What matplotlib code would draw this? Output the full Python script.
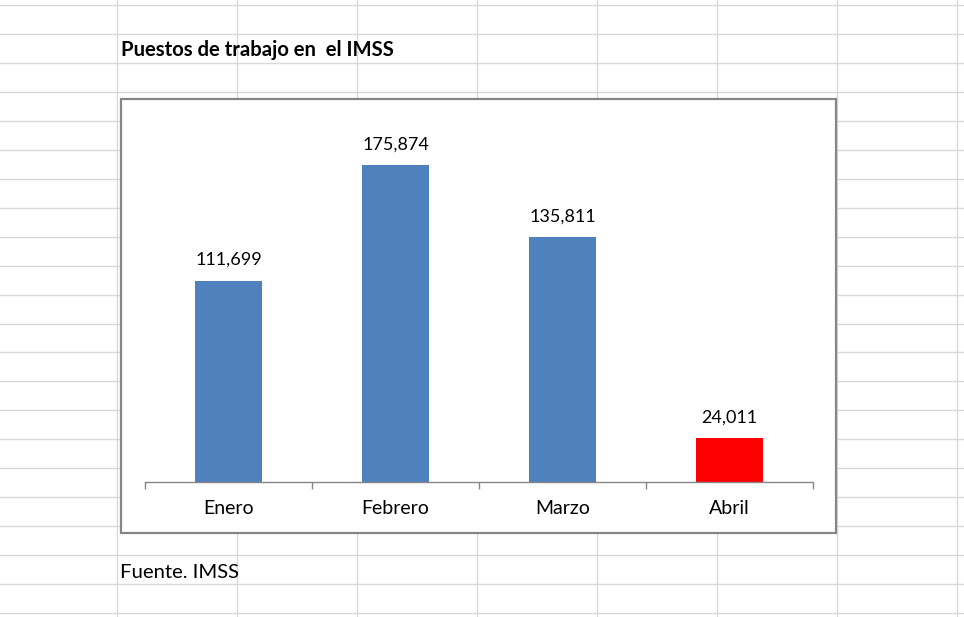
import matplotlib
matplotlib.use("Agg")
import matplotlib.pyplot as plt
from matplotlib.patches import Rectangle
from matplotlib.lines import Line2D

months = ["Enero", "Febrero", "Marzo", "Abril"]
jobs = [111699, 175874, 135811, 24011]
bar_colors = ["#4F81BD", "#4F81BD", "#4F81BD", "#FF0000"]
title = "Puestos de trabajo en  el IMSS"
source = "Fuente. IMSS"

plt.rcParams['font.family'] = ['Lato', 'DejaVu Sans']

W, H = 964, 617
fig = plt.figure(figsize=(W / 100, H / 100), dpi=100)
fig.patch.set_facecolor("white")

def fx(x):
    return x / W

def fy(y):
    return 1 - y / H

# spreadsheet cell grid
grid_c = "#d9d9d9"
for x in range(116, W, 120):
    fig.add_artist(Line2D([fx(x + 0.5), fx(x + 0.5)], [0, 1], color=grid_c, lw=1,
                          transform=fig.transFigure, zorder=0))
y = 5.3
while y < H:
    fig.add_artist(Line2D([0, 1], [fy(y), fy(y)], color=grid_c, lw=1,
                          transform=fig.transFigure, zorder=0))
    y += 28.93

# chart box
fig.add_artist(Rectangle((fx(121), fy(532.5)), fx(836) - fx(121), fy(98.5) - fy(532.5),
                         transform=fig.transFigure, facecolor="white",
                         edgecolor="#878787", lw=1.6, zorder=1))

# text in cells
fig.text(fx(121), fy(50), title, fontsize=14.6, fontweight="bold", ha="left", va="center",
         color="black", zorder=3)
fig.text(fx(120), fy(573), source, fontsize=14.6, ha="left", va="center",
         color="black", zorder=3)

# plot area
ax_left, ax_right, ax_bottom, ax_top = 145, 813, 481.7, 121.7
ax = fig.add_axes([fx(ax_left), fy(ax_bottom), fx(ax_right) - fx(ax_left),
                   fy(ax_top) - fy(ax_bottom)], zorder=2)
ax.patch.set_alpha(0)
x = list(range(len(months)))
bars = ax.bar(x, jobs, width=0.4, color=bar_colors, zorder=2)
ax.set_xlim(-0.5, len(months) - 0.5)
ax.set_ylim(0, 200000)
for s in ["top", "left", "right"]:
    ax.spines[s].set_visible(False)
ax.spines["bottom"].set_color("#868686")
ax.spines["bottom"].set_linewidth(1.0)
ax.set_yticks([])
ax.set_xticks(x)
ax.set_xticklabels(months, fontsize=14)
ax.tick_params(axis="x", which="major", length=0, pad=13)
ax.set_xticks([i - 0.5 for i in range(len(months) + 1)], minor=True)
ax.tick_params(axis="x", which="minor", length=5, color="#868686", width=1, direction="out")

for b, v in zip(bars, jobs):
    ax.annotate(f"{v:,}", (b.get_x() + b.get_width() / 2, v), xytext=(0, 15),
                textcoords="offset points", ha="center", va="center", fontsize=13)

fig.savefig("out.png", dpi=100)
